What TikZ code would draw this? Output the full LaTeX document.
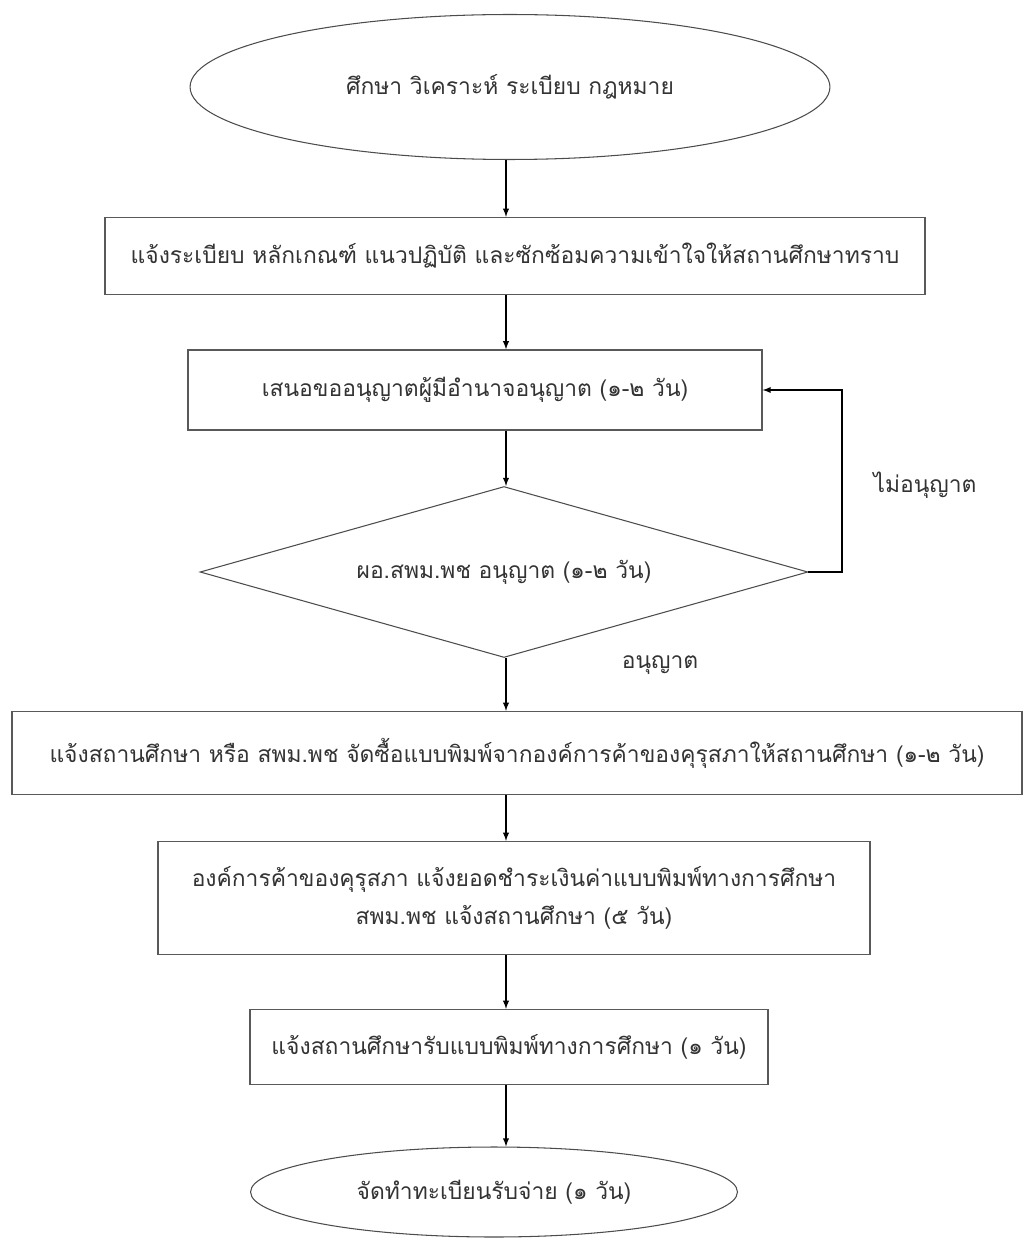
\documentclass[tikz,border=0pt]{standalone}
\usepackage{fontspec}
\newfontfamily\thaifont[Script=Thai]{Loma}
\usetikzlibrary{shapes.geometric}

\begin{document}
\begin{tikzpicture}[x=0.02cm,y=-0.02cm,
    every node/.style={font=\thaifont\fontsize{13}{21.5}\selectfont,text=black!80},
    endcap/.style={ellipse,draw=black!70,semithick,inner sep=0pt},
    stepbox/.style={rectangle,draw=black!65,thick,inner sep=0pt,align=center},
    choice/.style={diamond,draw=black!70,semithick,inner sep=0pt,aspect=3.5},
    flow/.style={-latex,black,semithick}]
    \useasboundingbox (0,0) rectangle (1024,1243);

    % steps, top to bottom
    \node[endcap,minimum width=12.8cm,minimum height=2.9cm](start)at(510,87){ศึกษา วิเคราะห์ ระเบียบ กฎหมาย};
    \node[stepbox,minimum width=16.4cm,minimum height=1.54cm](inform)at(515,256){แจ้งระเบียบ หลักเกณฑ์ แนวปฏิบัติ และซักซ้อมความเข้าใจให้สถานศึกษาทราบ};
    \node[stepbox,minimum width=11.48cm,minimum height=1.6cm](request)at(475,390){เสนอขออนุญาตผู้มีอำนาจอนุญาต (๑-๒ วัน)};
    \node[choice,minimum width=12.16cm,minimum height=3.42cm](decide)at(504,572){ผอ.สพม.พช อนุญาต (๑-๒ วัน)};
    \node[stepbox,minimum width=20.2cm,minimum height=1.66cm](order)at(517,753){แจ้งสถานศึกษา หรือ สพม.พช จัดซื้อแบบพิมพ์จากองค์การค้าของคุรุสภาให้สถานศึกษา (๑-๒ วัน)};
    \node[stepbox,minimum width=14.24cm,minimum height=2.26cm](bill)at(514,898){องค์การค้าของคุรุสภา แจ้งยอดชำระเงินค่าแบบพิมพ์ทางการศึกษา\\สพม.พช แจ้งสถานศึกษา (๕ วัน)};
    \node[stepbox,minimum width=10.36cm,minimum height=1.5cm](receive)at(509,1047){แจ้งสถานศึกษารับแบบพิมพ์ทางการศึกษา (๑ วัน)};
    \node[endcap,minimum width=9.74cm,minimum height=1.8cm](finish)at(494,1192){จัดทำทะเบียนรับจ่าย (๑ วัน)};

    % branch labels
    \node(deny)at(925,485){ไม่อนุญาต};
    \node(allow)at(660,665){อนุญาต};

    \coordinate(axis)at(506,0);
    \coordinate(loop)at(842,390);

    \draw[flow](start.south -| axis)--(inform.north -| axis);
    \draw[flow](inform.south -| axis)--(request.north -| axis);
    \draw[flow](request.south -| axis)--(decide.north -| axis);
    \draw[flow](decide.south -| axis)--(order.north -| axis);
    \draw[flow](order.south -| axis)--(bill.north -| axis);
    \draw[flow](bill.south -| axis)--(receive.north -| axis);
    \draw[flow](receive.south -| axis)--(finish.north -| axis);
    \draw[flow](decide.east)-|(loop)--(request.east);
\end{tikzpicture}
\end{document}
